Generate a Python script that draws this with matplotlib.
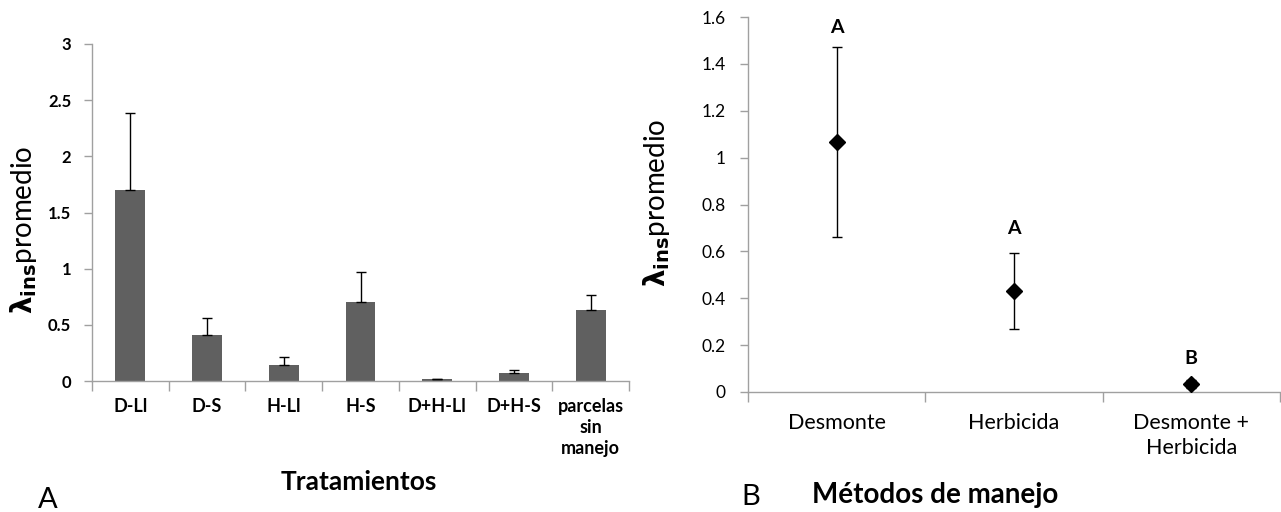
import matplotlib
matplotlib.use("Agg")
import matplotlib.pyplot as plt
import numpy as np

# ---- Data ----
treat_labels = ["D-Ll", "D-S", "H-Ll", "H-S", "D+H-Ll", "D+H-S", "parcelas\nsin\nmanejo"]
treat_means = [1.70, 0.41, 0.145, 0.705, 0.015, 0.068, 0.632]
treat_err = [0.69, 0.15, 0.065, 0.265, 0.004, 0.03, 0.134]

method_labels = ["Desmonte", "Herbicida", "Desmonte +\nHerbicida"]
method_means = [1.065, 0.431, 0.035]
method_err = [0.405, 0.163, 0.018]
method_letters = ["A", "A", "B"]
letter_y = [1.533, 0.674, 0.119]

FONT = "Lato"
plt.rcParams['font.family'] = [FONT, 'DejaVu Sans']
plt.rcParams['mathtext.fontset'] = 'dejavusans'

W, H = 1281, 512
fig = plt.figure(figsize=(W / 100, H / 100), dpi=100)

def fx(px):
    return px / W

def fy(py):
    return 1 - py / H

SPINE = "#a0a0a0"

# ---- Panel A ----
axA = fig.add_axes([fx(92), fy(381), fx(629) - fx(92), fy(44) - fy(381)])
xA = np.arange(len(treat_labels))
axA.bar(xA, treat_means, width=0.39, color="#606060", zorder=2)
axA.errorbar(xA, treat_means, yerr=[np.zeros(len(treat_err)), treat_err],
             fmt="none", ecolor="black", elinewidth=1.0, capsize=3.5, capthick=1.0, zorder=3)
axA.set_xlim(-0.5, len(treat_labels) - 0.5)
axA.set_ylim(0, 3)
axA.set_yticks([0, 0.5, 1, 1.5, 2, 2.5, 3])
axA.set_yticklabels(["0", "0.5", "1", "1.5", "2", "2.5", "3"], fontweight="bold", fontsize=12)
axA.set_xticks(np.arange(-0.5, len(treat_labels)), labels=[""] * (len(treat_labels) + 1))
axA.set_xticks(xA, labels=treat_labels, minor=True)
for lab in axA.get_xticklabels(minor=True):
    lab.set_fontweight("bold")
    lab.set_fontsize(13)
    lab.set_linespacing(1.3)
    lab.set_verticalalignment("top")
axA.tick_params(axis="x", which="minor", length=0, pad=12)
axA.tick_params(axis="x", which="major", length=7, color=SPINE, width=1)
axA.tick_params(axis="y", length=6, color=SPINE, width=1, pad=9)
for s in ["top", "right"]:
    axA.spines[s].set_visible(False)
for s in ["left", "bottom"]:
    axA.spines[s].set_color(SPINE)
    axA.spines[s].set_linewidth(1)

fig.text(fx(24), fy(230), r"$\mathbf{\lambda_{ins}}$promedio", rotation=90,
         ha="center", va="center", fontsize=20)
fig.text(fx(359), fy(490), "Tratamientos", ha="center", va="baseline",
         fontsize=19, fontweight="bold")
fig.text(fx(48), fy(508), "A", ha="center", va="baseline", fontsize=21)

# ---- Panel B ----
axB = fig.add_axes([fx(748), fy(392), fx(1280) - fx(748), fy(17) - fy(392)])
xB = np.arange(len(method_labels))
axB.errorbar(xB, method_means, yerr=method_err, fmt="D", color="black",
             markersize=8, ecolor="black", elinewidth=1.0, capsize=3.5, capthick=1.0, zorder=3)
for xi, ly, lt in zip(xB, letter_y, method_letters):
    axB.text(xi, ly, lt, ha="center", va="baseline", fontsize=14, fontweight="bold")
axB.set_xlim(-0.5, len(method_labels) - 0.5)
axB.set_ylim(0, 1.6)
axB.set_yticks([0, 0.2, 0.4, 0.6, 0.8, 1.0, 1.2, 1.4, 1.6])
axB.set_yticklabels(["0", "0.2", "0.4", "0.6", "0.8", "1", "1.2", "1.4", "1.6"], fontsize=12.5)
axB.set_xticks(np.arange(-0.5, len(method_labels)), labels=[""] * (len(method_labels) + 1))
axB.set_xticks(xB, labels=method_labels, minor=True)
for lab in axB.get_xticklabels(minor=True):
    lab.set_fontsize(15.5)
    lab.set_linespacing(1.35)
    lab.set_verticalalignment("top")
axB.tick_params(axis="x", which="minor", length=0, pad=15)
axB.tick_params(axis="x", which="major", length=7, color=SPINE, width=1)
axB.tick_params(axis="y", length=6, color=SPINE, width=1, pad=10)
for s in ["top", "right"]:
    axB.spines[s].set_visible(False)
for s in ["left", "bottom"]:
    axB.spines[s].set_color(SPINE)
    axB.spines[s].set_linewidth(1)

fig.text(fx(657), fy(203), r"$\mathbf{\lambda_{ins}}$promedio", rotation=90,
         ha="center", va="center", fontsize=20)
fig.text(fx(935), fy(503), "Métodos de manejo", ha="center", va="baseline",
         fontsize=20, fontweight="bold")
fig.text(fx(751), fy(505), "B", ha="center", va="baseline", fontsize=21)

fig.savefig("out.png", dpi=100)
